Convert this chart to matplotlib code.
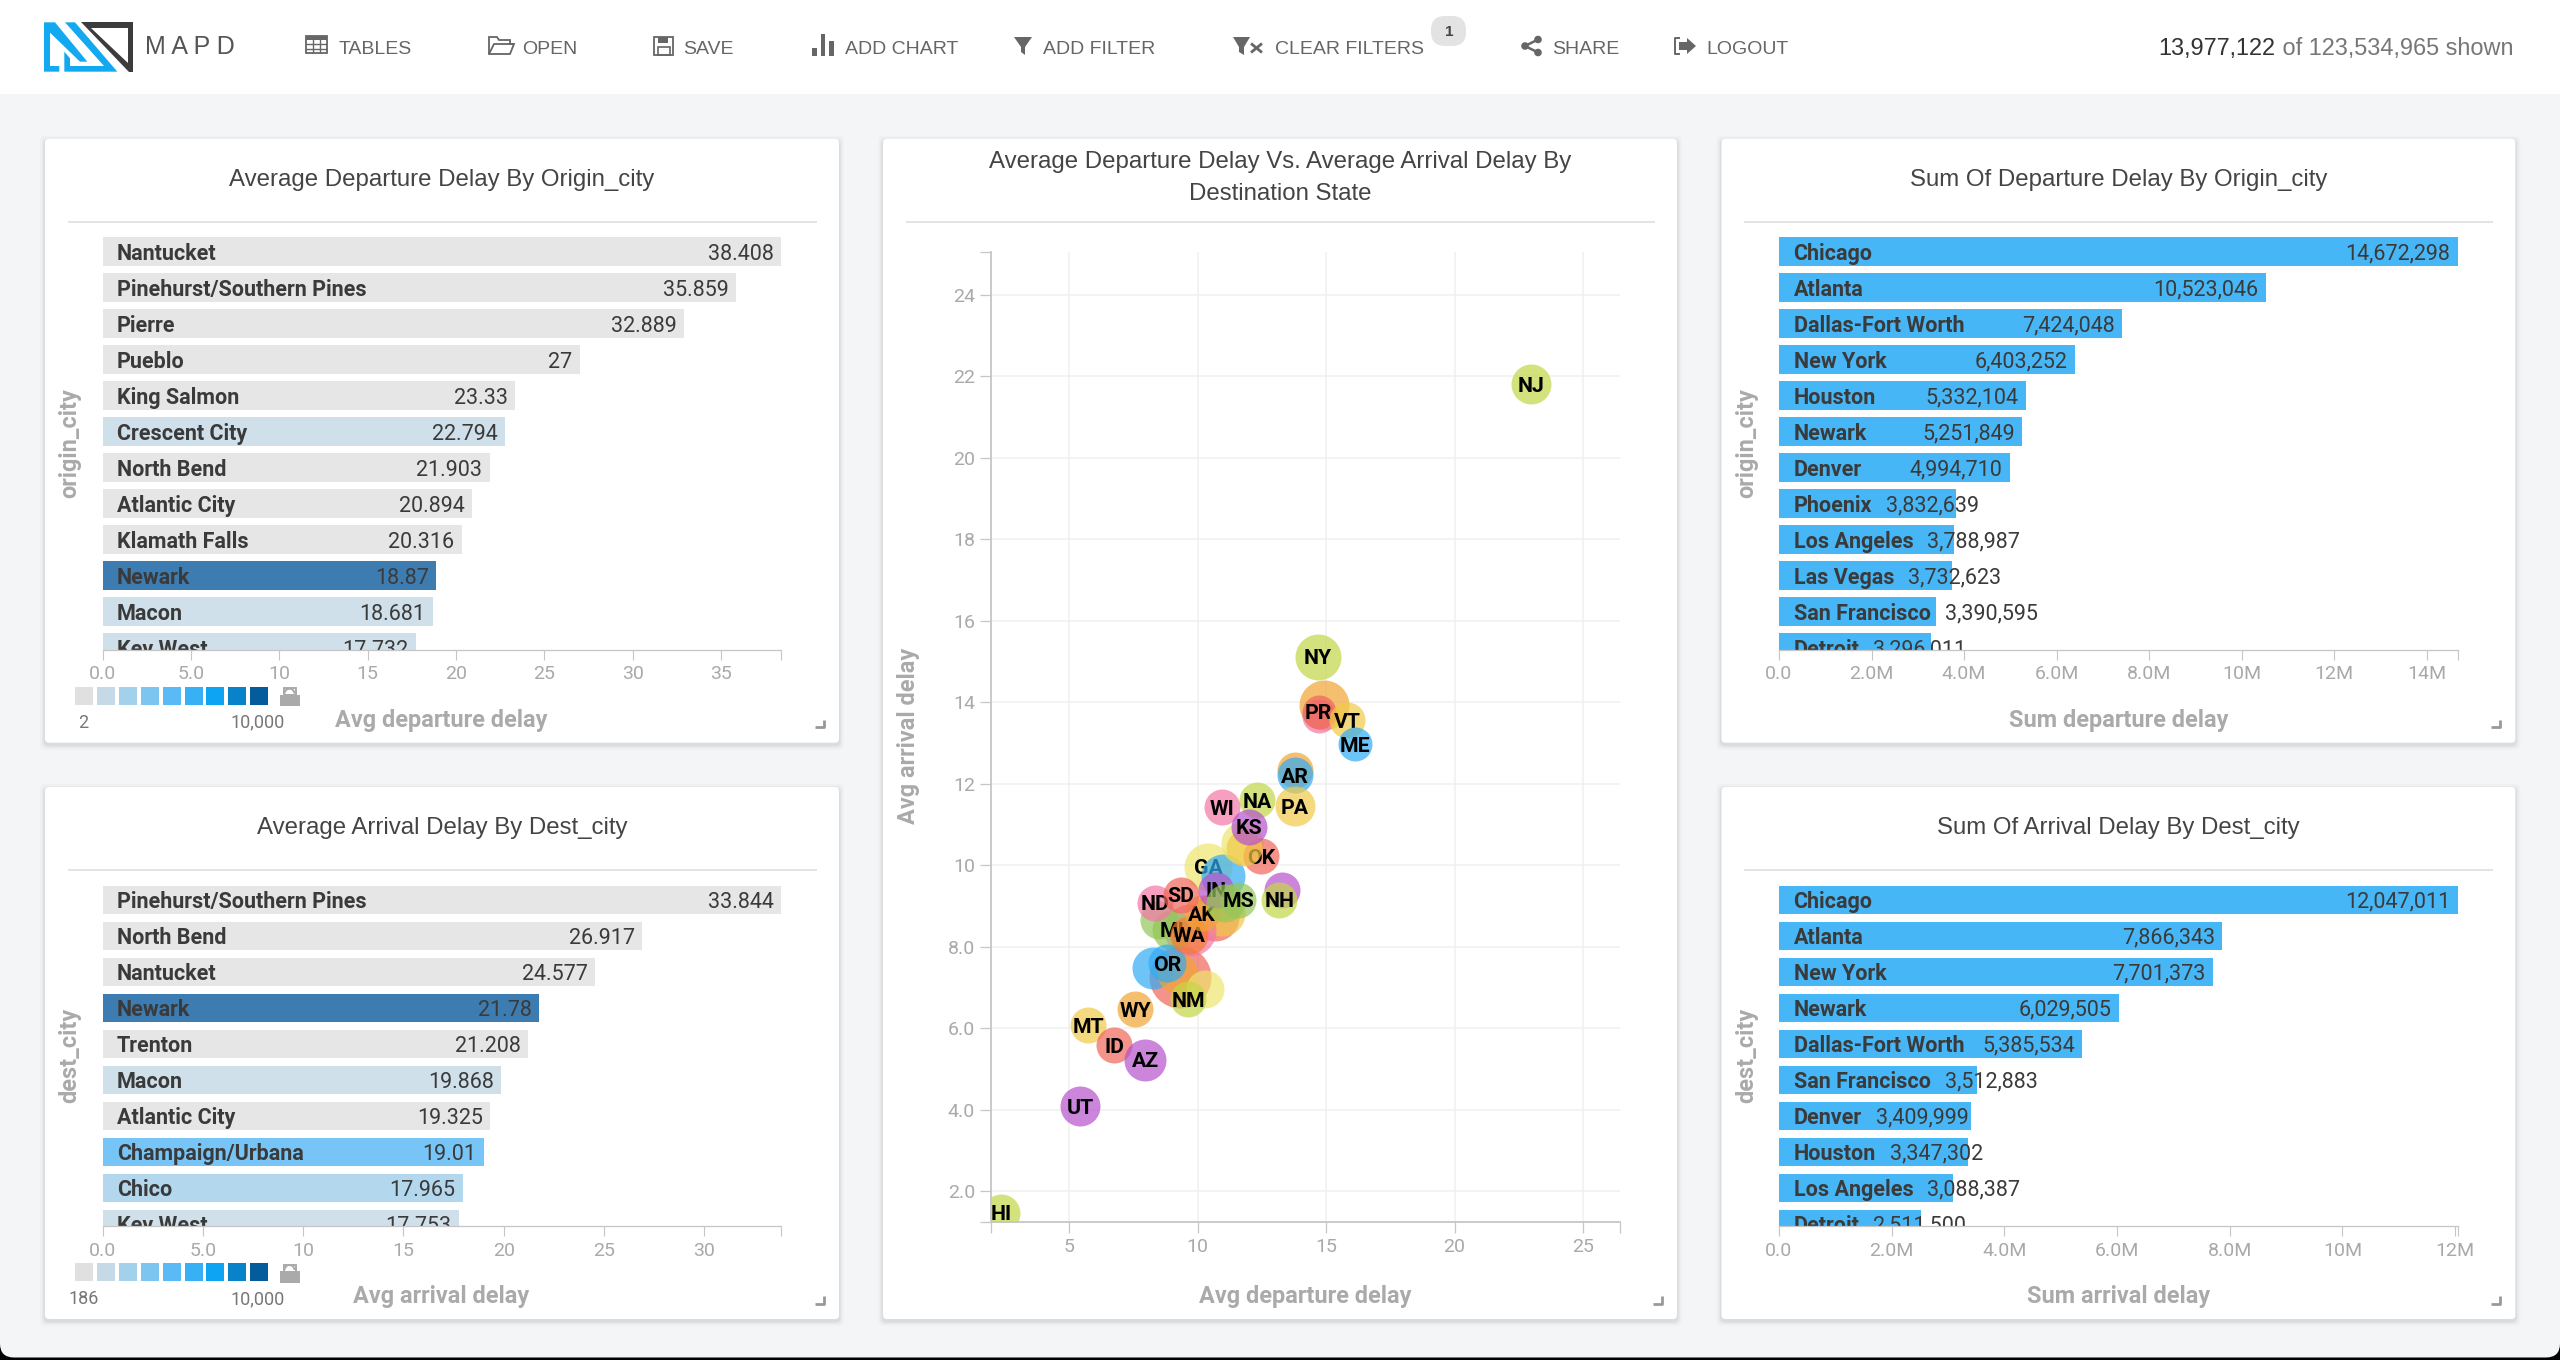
import matplotlib
matplotlib.use("Agg")
import matplotlib.pyplot as plt
from matplotlib.patches import Rectangle, Polygon, Circle, FancyBboxPatch, Wedge

# =========================
# DATA
# =========================
dep_city_names = ["Nantucket", "Pinehurst/Southern Pines", "Pierre", "Pueblo", "King Salmon", "Crescent City",
                  "North Bend", "Atlantic City", "Klamath Falls", "Newark", "Macon", "Key West"]
dep_city_values = [38.408, 35.859, 32.889, 27, 23.33, 22.794, 21.903, 20.894, 20.316, 18.87, 18.681, 17.732]
dep_city_labels = ["38.408", "35.859", "32.889", "27", "23.33", "22.794", "21.903", "20.894", "20.316", "18.87",
                   "18.681", "17.732"]
dep_city_colors = ["#e6e6e6", "#e6e6e6", "#e6e6e6", "#e6e6e6", "#e6e6e6", "#cfe0ea", "#e6e6e6", "#e6e6e6",
                   "#e6e6e6", "#3d7cb0", "#cfe0ea", "#cfe0ea"]
dep_ticks = [0, 5, 10, 15, 20, 25, 30, 35]
dep_tick_labels = ["0.0", "5.0", "10", "15", "20", "25", "30", "35"]

arr_city_names = ["Pinehurst/Southern Pines", "North Bend", "Nantucket", "Newark", "Trenton", "Macon",
                  "Atlantic City", "Champaign/Urbana", "Chico", "Key West"]
arr_city_values = [33.844, 26.917, 24.577, 21.78, 21.208, 19.868, 19.325, 19.01, 17.965, 17.753]
arr_city_labels = ["33.844", "26.917", "24.577", "21.78", "21.208", "19.868", "19.325", "19.01", "17.965", "17.753"]
arr_city_colors = ["#e6e6e6", "#e6e6e6", "#e6e6e6", "#3d7cb0", "#e6e6e6", "#cfe0ea", "#e6e6e6", "#76c5f6",
                   "#b3d8ed", "#cfe0ea"]
arr_ticks = [0, 5, 10, 15, 20, 25, 30]
arr_tick_labels = ["0.0", "5.0", "10", "15", "20", "25", "30"]

sum_dep_names = ["Chicago", "Atlanta", "Dallas-Fort Worth", "New York", "Houston", "Newark", "Denver", "Phoenix",
                 "Los Angeles", "Las Vegas", "San Francisco", "Detroit"]
sum_dep_values = [14672298, 10523046, 7424048, 6403252, 5332104, 5251849, 4994710, 3832639, 3788987, 3732623,
                  3390595, 3296011]
sum_dep_ticks = [0, 2e6, 4e6, 6e6, 8e6, 10e6, 12e6, 14e6]
sum_dep_tick_labels = ["0.0", "2.0M", "4.0M", "6.0M", "8.0M", "10M", "12M", "14M"]

sum_arr_names = ["Chicago", "Atlanta", "New York", "Newark", "Dallas-Fort Worth", "San Francisco", "Denver",
                 "Houston", "Los Angeles", "Detroit"]
sum_arr_values = [12047011, 7866343, 7701373, 6029505, 5385534, 3512883, 3409999, 3347302, 3088387, 2511500]
sum_arr_ticks = [0, 2e6, 4e6, 6e6, 8e6, 10e6, 12e6]
sum_arr_tick_labels = ["0.0", "2.0M", "4.0M", "6.0M", "8.0M", "10M", "12M"]

# bubbles, drawn in this order (some states have their label hidden behind others)
state_names = ["", "", "GA", "", "", "", "", "", "", "MI", "", "", "OR", "WA", "AK", "NJ", "NY", "", "PR", "VT",
               "ME", "", "AR", "PA", "NA", "WI", "", "OK", "", "IN", "", "", "MS", "ND", "SD", "NH", "KS", "NM",
               "WY", "MT", "ID", "AZ", "UT", "HI"]
state_dep_delay = [9.32, 14.92, 10.42, 11.0, 10.68, 10.94, 9.71, 8.28, 8.48, 9.0, 9.19, 10.29, 8.80, 9.67, 10.16,
                   22.98, 14.68, 14.71, 14.71, 15.81, 16.13, 13.79, 13.8, 13.79, 12.33, 10.94, 11.72, 12.47,
                   11.8, 10.71, 11.07, 13.27, 11.59, 8.35, 9.36, 13.18, 11.99, 9.64, 7.57, 5.75, 6.75, 7.96,
                   5.43, 2.34]
state_arr_delay = [7.26, 13.94, 9.96, 9.72, 8.73, 8.83, 8.41, 7.48, 8.65, 8.41, 7.34, 6.95, 7.59, 8.29, 8.82, 21.8,
                   15.12, 13.66, 13.76, 13.55, 12.97, 12.33, 12.21, 11.45, 11.59, 11.42, 10.54, 10.22,
                   10.42, 9.39, 9.07, 9.39, 9.15, 9.08, 9.27, 9.15, 10.94, 6.71, 6.46, 6.07, 5.58, 5.22, 4.08, 1.47]
state_radius = [31, 25, 24, 22, 24, 23, 26, 21, 19, 20, 20, 19, 19, 19, 18, 20, 23, 17, 17, 18, 17, 18, 18, 20,
                18, 18, 21, 18, 18, 18, 19, 18, 18, 18, 18, 18, 18, 18, 18, 18, 18, 21, 20, 19]
state_colors = ["#ef6658", "#f1a534", "#eee46d", "#31acf5", "#ef6658", "#f1c948", "#f376a6", "#31acf5", "#93c758",
                "#93c758", "#f1a534", "#eee46d", "#31acf5", "#f57a30", "#f1a534", "#c3d747", "#c3d747", "#f376a6",
                "#ef6658", "#f1c948", "#31acf5", "#f1a534", "#31acf5", "#f1c948", "#c3d747", "#f376a6",
                "#eee46d", "#ef6658", "#f1c948", "#b651cd", "#93c758", "#b651cd", "#93c758", "#f376a6", "#ef6658",
                "#c3d747", "#b651cd", "#c3d747", "#f1a534", "#f1c948", "#ef6658", "#b651cd", "#b651cd",
                "#c3d747"]
scatter_x_ticks = [5, 10, 15, 20, 25]
scatter_y_ticks = [2, 4, 6, 8, 10, 12, 14, 16, 18, 20, 22, 24]
scatter_y_tick_labels = ["2.0", "4.0", "6.0", "8.0", "10", "12", "14", "16", "18", "20", "22", "24"]

legend_colors = ["#e0e0e0", "#c5dae6", "#a3d1ec", "#7cc5f1", "#59baf5", "#38b0f5", "#0ea4f4", "#0882c8", "#045c9c"]

nav_items = [("TABLES", 339), ("OPEN", 522), ("SAVE", 683), ("ADD CHART", 845), ("ADD FILTER", 1043),
             ("CLEAR FILTERS", 1275), ("SHARE", 1552), ("LOGOUT", 1706)]

# =========================
# SETTINGS
# =========================
W, H = 2560, 1360
BG = "#f3f5f7"
SUM_BLUE = "#47b6f6"
AXIS_GREY = "#c6c6c6"
TICK_GREY = "#a9a9a9"
LABEL_GREY = "#aaaaaa"
NAV_GREY = "#666666"
UI_FONT = "Liberation Sans"
CHART_FONT = "Roboto"

fig = plt.figure(figsize=(W / 100, H / 100), dpi=100, facecolor="black")

# page layer in pixel coordinates, everything that is not a chart goes here
page = fig.add_axes([0, 0, 1, 1], zorder=0)
page.set_xlim(0, W)
page.set_ylim(H, 0)
page.axis("off")


def px_axes(left, top, right, bottom):
    ax = fig.add_axes([left / W, 1 - bottom / H, (right - left) / W, (bottom - top) / H], zorder=2)
    ax.patch.set_alpha(0)
    return ax


def rect(x0, y0, x1, y1, color, z=3, **kw):
    page.add_patch(Rectangle((x0, y0), x1 - x0, y1 - y0, facecolor=color, edgecolor="none", zorder=z, **kw))


def seg(xs, ys, color=NAV_GREY, lw=1.4, z=3):
    page.plot(xs, ys, color=color, lw=lw, zorder=z, solid_capstyle="butt")


def card(x0, y0, x1, y1):
    # soft shadow under the card
    for grow, alpha in [(5, 0.02), (3, 0.03), (1.5, 0.05)]:
        page.add_patch(FancyBboxPatch((x0 - grow, y0 - grow + 2), x1 - x0 + 2 * grow, y1 - y0 + 2 * grow,
                                      boxstyle="round,pad=0,rounding_size=5", facecolor="black", alpha=alpha,
                                      edgecolor="none", zorder=1))
    page.add_patch(FancyBboxPatch((x0, y0), x1 - x0, y1 - y0, boxstyle="round,pad=0,rounding_size=4",
                                  facecolor="white", edgecolor="none", zorder=2))
    # resize handle
    seg([x1 - 24, x1 - 15, x1 - 15], [y1 - 15.5, y1 - 15.5, y1 - 23], color="#999999", lw=2)


def card_text(x, y, s, size=17.3, color="#444444", **kw):
    page.text(x, y, s, fontsize=size, color=color, family=UI_FONT, ha="center", va="center", zorder=4, **kw)


def lock_icon(x0, y0):
    rect(x0, y0 + 8, x0 + 20, y0 + 19.5, "#aaaaaa")
    page.add_patch(Wedge((x0 + 10, y0 + 7), 6, 180, 360, width=2, facecolor="#aaaaaa", edgecolor="none",
                         zorder=3, transform=page.transData))
    page.add_patch(Rectangle((x0 + 4, y0 + 1.5), 12, 7, facecolor="none", edgecolor="#aaaaaa", lw=1.4, zorder=3))


def bar_panel(x0, y0, x1, y1, title, names, values, value_labels, colors, ticks, tick_labels, xlabel, ylabel,
              legend_low=None):
    card(x0, y0, x1, y1)
    cx = (x0 + x1) / 2
    card_text(cx, y0 + 41, title)
    seg([x0 + 22.5, x1 - 22], [y0 + 83, y0 + 83], color="#e4e4e4", lw=1.4)

    left, right = x0 + 57.5, x0 + 736.3
    top, bottom = y0 + 98.5, y1 - 93.2
    pitch = 36
    ax = px_axes(left, top, right, bottom)
    xmax = values[0]
    ax.set_xlim(0, xmax)
    bar_h = 28.6 / pitch
    ax.set_ylim(-0.5 * bar_h + (bottom - top) / pitch, -0.5 * bar_h)
    rows = list(range(len(values)))
    ax.barh(rows, values, height=bar_h, color=colors, linewidth=0)

    # value text sits inside the bar end unless it would run into the city name
    renderer = fig.canvas.get_renderer()
    px_per_val = (right - left) / xmax
    for row, name, val, lab in zip(rows, names, values, value_labels):
        t_name = ax.text(14.5 / px_per_val, row, name, fontsize=15.5, fontweight="bold", family=CHART_FONT,
                         color="#3a3a3a", va="center_baseline", ha="left", clip_on=True, zorder=5)
        t_val = ax.text(0, row, lab, fontsize=15.5, family=CHART_FONT, color="#3a3a3a", va="center_baseline",
                        ha="left", clip_on=True, zorder=5)
        name_right = t_name.get_window_extent(renderer).x1 - left
        val_w = t_val.get_window_extent(renderer).width
        val_left = max(val * px_per_val - 7.3 - val_w, name_right + 14)
        t_val.set_x(val_left / px_per_val)

    ax.set_xticks(ticks)
    ax.set_xticklabels(tick_labels, family=CHART_FONT, fontsize=14, color=TICK_GREY)
    ax.set_xticks([xmax], minor=True)
    ax.tick_params(axis="x", which="both", length=7.4, width=0.8, color=AXIS_GREY, pad=4)
    ax.set_yticks([])
    for side in ["top", "left", "right"]:
        ax.spines[side].set_visible(False)
    ax.spines["bottom"].set_color(AXIS_GREY)
    ax.spines["bottom"].set_linewidth(0.9)
    ax.spines["bottom"].set_zorder(6)

    label_x = cx if legend_low is None else x0 + 396.5
    page.text(label_x, y1 - 22, xlabel, fontsize=16.9, fontweight="bold", family=CHART_FONT, color=LABEL_GREY,
              ha="center", va="center", zorder=4)
    page.text(x0 + 25, (top + bottom) / 2, ylabel, fontsize=16.9, fontweight="bold", family=CHART_FONT,
              color=LABEL_GREY, rotation=90, ha="center", va="center", zorder=4)

    if legend_low is not None:
        for i, c in enumerate(legend_colors):
            sx = x0 + 30 + 21.9 * i
            rect(sx, y1 - 56, sx + 18, y1 - 38, c)
        lock_icon(x0 + 234.5, y1 - 56)
        page.text(x0 + 38.5, y1 - 20, legend_low, fontsize=13, family=CHART_FONT, color="#777777", ha="center",
                  va="center", zorder=4)
        page.text(x0 + 212.5, y1 - 20, "10,000", fontsize=13, family=CHART_FONT, color="#777777", ha="center",
                  va="center", zorder=4)


def scatter_panel(x0, y0, x1, y1):
    card(x0, y0, x1, y1)
    cx = (x0 + x1) / 2
    card_text(cx, 162, "Average Departure Delay Vs. Average Arrival Delay By")
    card_text(cx, 194.5, "Destination State")
    seg([905.5, 1655], [221.8, 221.8], color="#e4e4e4", lw=1.4)

    ax = px_axes(991, 251.6, 1620, 1221.7)
    ax.set_xlim(1.96, 26.44)
    ax.set_ylim(1.246, 25.06)

    for i, (name, dx, dy, r, c) in enumerate(zip(state_names, state_dep_delay, state_arr_delay, state_radius,
                                                 state_colors)):
        size = (2 * r * 0.72) ** 2
        ax.scatter([dx], [dy], s=size, color=c, alpha=0.7, linewidths=0, zorder=3 + i * 0.01)
        if name:
            ax.text(dx, dy, name, fontsize=15.3, fontweight="bold", family=CHART_FONT, color="black", ha="center",
                    va="center_baseline", clip_on=True, zorder=3 + i * 0.01 + 0.001)

    ax.set_xticks(scatter_x_ticks)
    ax.set_xticklabels([str(v) for v in scatter_x_ticks], family=CHART_FONT, fontsize=14, color=TICK_GREY)
    ax.set_yticks(scatter_y_ticks)
    ax.set_yticklabels(scatter_y_tick_labels, family=CHART_FONT, fontsize=14, color=TICK_GREY)
    ax.set_xticks([1.96, 26.44], minor=True)
    ax.set_yticks([1.246, 25.06], minor=True)
    ax.tick_params(axis="both", which="both", length=7.6, width=0.9, color=AXIS_GREY, pad=4)
    ax.grid(which="major", color="#f0f0f0", lw=1.1, zorder=1)
    ax.set_axisbelow(True)
    for side in ["top", "right"]:
        ax.spines[side].set_visible(False)
    for side in ["left", "bottom"]:
        ax.spines[side].set_color(AXIS_GREY)
        ax.spines[side].set_linewidth(1.3)
        ax.spines[side].set_zorder(6)

    page.text(1305, 1296.5, "Avg departure delay", fontsize=16.9, fontweight="bold", family=CHART_FONT,
              color=LABEL_GREY, ha="center", va="center", zorder=4)
    page.text(908, 736, "Avg arrival delay", fontsize=16.9, fontweight="bold", family=CHART_FONT, color=LABEL_GREY,
              rotation=90, ha="center", va="center", zorder=4)


def logo():
    def pts(items):
        return [(30 + x / 3, 10 + y / 3) for x, y in items]

    blue = "#12a9f0"
    page.add_patch(Polygon(pts([(42, 37), (75, 37), (172, 155), (150, 155), (60, 68), (60, 168), (88, 168), (88, 185),
                                (42, 185)]), facecolor=blue, edgecolor="none", zorder=3))
    page.add_patch(Polygon(pts([(105, 37), (135, 37), (262, 185), (103, 185), (103, 125), (120, 145), (120, 168),
                                (222, 168)]), facecolor=blue, edgecolor="none", zorder=3))
    page.add_patch(Polygon(pts([(152, 37), (310, 37), (310, 185), (296, 185)]), facecolor="#3c3c3c", edgecolor="none",
                           zorder=3))
    page.add_patch(Polygon(pts([(183, 53), (295, 53), (295, 160)]), facecolor="white", edgecolor="none", zorder=3))
    page.text(145, 47, "M A P D", fontsize=18, family=UI_FONT, color="#555555", ha="left", va="center", zorder=4)


def nav_icons():
    # tables
    page.add_patch(Rectangle((306, 35.5), 21, 17.5, facecolor="none", edgecolor=NAV_GREY, lw=1.3, zorder=3))
    rect(306, 35.5, 327, 39.5, NAV_GREY)
    for x in [313, 320]:
        seg([x, x], [36, 53], lw=1)
    for y in [44, 48.5]:
        seg([306, 327], [y, y], lw=1)
    # open
    page.add_patch(Polygon([(489, 37), (497, 37), (499, 40), (510, 40), (510, 44), (514, 44), (510, 54), (489, 54)],
                           facecolor="none", edgecolor=NAV_GREY, lw=1.3, zorder=3))
    seg([489, 494, 514], [54, 44, 44], lw=1.3)
    # save
    page.add_patch(Rectangle((654, 36.5), 19, 18, facecolor="none", edgecolor=NAV_GREY, lw=1.3, zorder=3))
    rect(658, 36.5, 668, 43, NAV_GREY)
    page.add_patch(Rectangle((657.5, 47), 12, 7.5, facecolor="none", edgecolor=NAV_GREY, lw=1.2, zorder=3))
    # add chart
    rect(812, 48.3, 817, 56, NAV_GREY)
    rect(820.6, 34.3, 824.5, 56, NAV_GREY)
    rect(829, 40.7, 834, 56, NAV_GREY)
    # funnels
    page.add_patch(Polygon([(1014, 37), (1032, 37), (1025, 47), (1025, 55), (1021, 52), (1021, 47)], facecolor=NAV_GREY,
                           edgecolor="none", zorder=3))
    page.add_patch(Polygon([(1233, 37), (1250, 37), (1244, 47), (1244, 55), (1239, 52), (1239, 47)], facecolor=NAV_GREY,
                           edgecolor="none", zorder=3))
    seg([1251, 1262], [43.5, 52.5], lw=2)
    seg([1262, 1251], [43.5, 52.5], lw=2)
    # badge
    page.add_patch(FancyBboxPatch((1431, 16), 35, 30, boxstyle="round,pad=0,rounding_size=14", facecolor="#e3e3e3",
                                  edgecolor="none", zorder=3))
    page.text(1449, 32, "1", fontsize=11, family=UI_FONT, fontweight="bold", color="#444444", ha="center",
              va="center", zorder=4)
    # share
    seg([1538, 1525, 1538], [39.5, 46, 52.5], lw=1.8)
    for cx, cy in [(1538, 39.5), (1525, 46), (1538, 52.5)]:
        page.add_patch(Circle((cx, cy), 3.8, facecolor=NAV_GREY, edgecolor="none", zorder=3))
    # logout
    seg([1680, 1675, 1675, 1680], [38, 38, 54, 54], lw=1.4)
    page.add_patch(Polygon([(1679, 42), (1687, 42), (1687, 38), (1696, 46), (1687, 54), (1687, 50), (1679, 50)],
                           facecolor=NAV_GREY, edgecolor="none", zorder=3))


# =========================
# PAGE
# =========================
page.add_patch(FancyBboxPatch((0, -40), W, H - 2.5 + 40, boxstyle="round,pad=0,rounding_size=14", facecolor=BG,
                              edgecolor="none", zorder=0))
rect(0, 0, W, 94, "white", z=0.5)
logo()
nav_icons()
for text, x in nav_items:
    page.text(x, 49, text, fontsize=14, family=UI_FONT, color=NAV_GREY, ha="left", va="center", zorder=4)

count_t = page.text(2158.5, 49, "13,977,122", fontsize=16.9, family=UI_FONT, color="#333333", ha="left", va="center",
                    zorder=4)
fig.canvas.draw()
count_right = count_t.get_window_extent(fig.canvas.get_renderer()).x1
page.text(count_right + 1, 49, " of 123,534,965 shown", fontsize=16.9, family=UI_FONT, color="#777777", ha="left",
          va="center", zorder=4)

# =========================
# CHARTS
# =========================
bar_panel(45, 138.8, 839, 742.7, "Average Departure Delay By Origin_city", dep_city_names, dep_city_values,
          dep_city_labels, dep_city_colors, dep_ticks, dep_tick_labels, "Avg departure delay", "origin_city",
          legend_low="2")
bar_panel(45, 787, 839, 1319, "Average Arrival Delay By Dest_city", arr_city_names, arr_city_values, arr_city_labels,
          arr_city_colors, arr_ticks, arr_tick_labels, "Avg arrival delay", "dest_city", legend_low="186")

scatter_panel(883, 138.8, 1677, 1319)

bar_panel(1721.5, 138.8, 2515.4, 742.7, "Sum Of Departure Delay By Origin_city", sum_dep_names, sum_dep_values,
          [f"{v:,}" for v in sum_dep_values], [SUM_BLUE] * len(sum_dep_values), sum_dep_ticks, sum_dep_tick_labels,
          "Sum departure delay", "origin_city")
bar_panel(1721.5, 787, 2515.4, 1319, "Sum Of Arrival Delay By Dest_city", sum_arr_names, sum_arr_values,
          [f"{v:,}" for v in sum_arr_values], [SUM_BLUE] * len(sum_arr_values), sum_arr_ticks, sum_arr_tick_labels,
          "Sum arrival delay", "dest_city")

fig.savefig("out.png", dpi=100)
